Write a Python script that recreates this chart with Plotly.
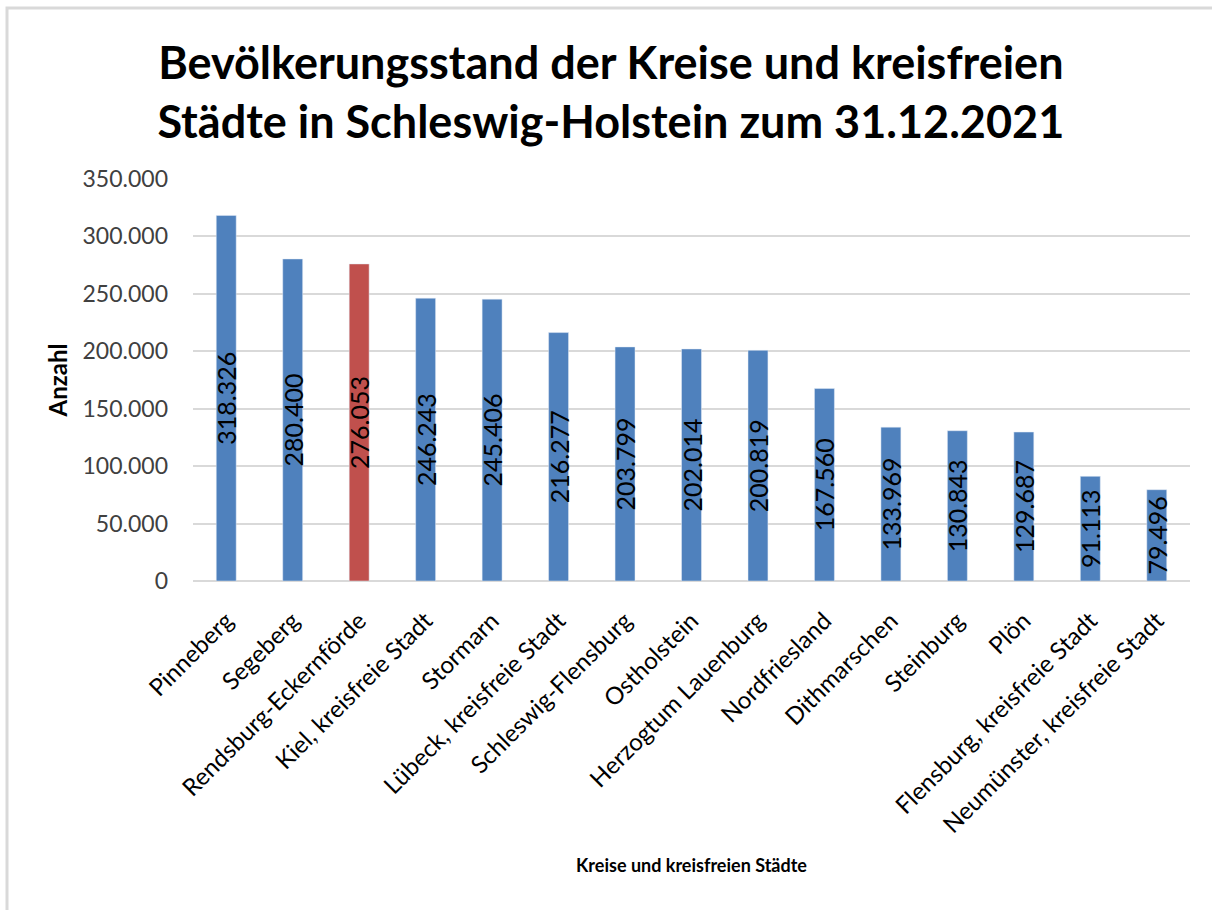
import plotly.graph_objects as go

KREISE = [
    "Pinneberg", "Segeberg", "Rendsburg-Eckernförde", "Kiel, kreisfreie Stadt",
    "Stormarn", "Lübeck, kreisfreie Stadt", "Schleswig-Flensburg", "Ostholstein",
    "Herzogtum Lauenburg", "Nordfriesland", "Dithmarschen", "Steinburg", "Plön",
    "Flensburg, kreisfreie Stadt", "Neumünster, kreisfreie Stadt",
]
EINWOHNER = [
    318326, 280400, 276053, 246243, 245406, 216277, 203799, 202014,
    200819, 167560, 133969, 130843, 129687, 91113, 79496,
]
HIGHLIGHT = "Rendsburg-Eckernförde"

BLUE = "#4F81BD"
RED = "#C0504D"
GRID = "#D9D9D9"
FONT = "Lato"

# plot area in pixels (from the reference)
W, H = 1212, 910
L, R, T, B = 193, 1190, 179, 581

colors = [RED if k == HIGHLIGHT else BLUE for k in KREISE]

fig = go.Figure()
fig.add_bar(
    x=KREISE,
    y=EINWOHNER,
    marker_color=colors,
    texttemplate="%{y:,d}",
    textposition="inside",
    insidetextanchor="middle",
    textangle=-90,
    constraintext="none",
    insidetextfont=dict(family=FONT, size=25, color="black"),
    hoverinfo="x+y",
)


def px_to_paper_x(px):
    return (px - L) / (R - L)


def px_to_paper_y(py):
    return (B - py) / (B - T)


# outer chart border (light gray frame)
fig.add_shape(
    type="rect", xref="paper", yref="paper",
    x0=px_to_paper_x(7), x1=px_to_paper_x(1222),
    y0=px_to_paper_y(925), y1=px_to_paper_y(8),
    line=dict(color=GRID, width=3), layer="below",
)

fig.update_layout(
    width=W, height=H,
    margin=dict(l=L, r=W - R, t=T, b=H - B, autoexpand=False),
    paper_bgcolor="white",
    plot_bgcolor="white",
    separators=",.",
    showlegend=False,
    bargap=0.7,
    font=dict(family=FONT, color="#404040"),
    title=dict(
        text="<b>Bevölkerungsstand der Kreise und kreisfreien<br>Städte in Schleswig-Holstein zum 31.12.2021</b>",
        x=0.504, xanchor="center", xref="container",
        y=0.913, yanchor="top", yref="container",
        font=dict(family=FONT, size=45, color="black"),
    ),
)

fig.update_yaxes(
    range=[0, 350000],
    dtick=50000,
    tickformat=",d",
    showgrid=True, gridcolor=GRID, gridwidth=2,
    zeroline=True, zerolinecolor=GRID, zerolinewidth=2,
    showline=False,
    ticks="", ticklabelstandoff=24,
    tickfont=dict(family=FONT, size=23, color="#404040"),
    title=dict(text="<b>Anzahl</b>", standoff=8,
               font=dict(family=FONT, size=24, color="black")),
    automargin=False,
)
fig.update_xaxes(
    tickangle=-45,
    tickfont=dict(family=FONT, size=24, color="black"),
    showline=False, ticks="", ticklabelstandoff=20,
    title=dict(text="<b>Kreise und kreisfreien Städte</b>", standoff=22,
               font=dict(family=FONT, size=18, color="black")),
    automargin=False,
)

fig.write_html(
    "out.html",
    config={"displayModeBar": False},
    post_script="document.body.style.margin='0';",
)
